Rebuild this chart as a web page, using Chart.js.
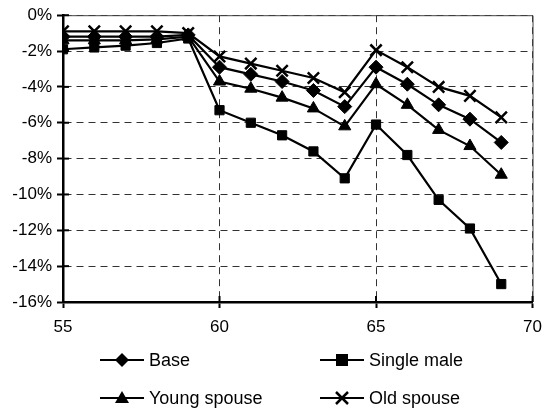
<!DOCTYPE html>
<html>
<head>
<meta charset="utf-8">
<script src="https://cdn.jsdelivr.net/npm/chart.js@4/dist/chart.umd.min.js"></script>
<style>
  body { margin: 0; background: #fff; }
  #wrap { position: relative; width: 551px; height: 412px; }
  #chart { position: absolute; left: 0; top: 0; }
  .leg { position: absolute; display: flex; align-items: center; font: 18px "Liberation Sans", Arial, sans-serif; color: #000; }
  .leg canvas { margin-right: 3px; }
</style>
</head>
<body>
<div id="wrap">
  <canvas id="chart" width="551" height="412"></canvas>
  <div class="leg" style="left:98px;top:348px"><canvas data-style="rectRot" width="48" height="24"></canvas>Base</div>
  <div class="leg" style="left:318px;top:348px"><canvas data-style="rect" width="48" height="24"></canvas>Single male</div>
  <div class="leg" style="left:98px;top:386px"><canvas data-style="triangle" width="48" height="24"></canvas>Young spouse</div>
  <div class="leg" style="left:318px;top:386px"><canvas data-style="crossRot" width="48" height="24"></canvas>Old spouse</div>
</div>
<script>
const ages = [55, 56, 57, 58, 59, 60, 61, 62, 63, 64, 65, 66, 67, 68, 69];
const base = [-1.2, -1.2, -1.2, -1.2, -1.1, -2.9, -3.3, -3.7, -4.2, -5.1, -2.9, -3.85, -5.0, -5.8, -7.1];
const singleMale = [-1.9, -1.8, -1.7, -1.55, -1.3, -5.3, -6.0, -6.7, -7.6, -9.1, -6.1, -7.8, -10.3, -11.9, -15.0];
const youngSpouse = [-1.4, -1.4, -1.4, -1.35, -1.2, -3.7, -4.1, -4.6, -5.2, -6.2, -3.85, -5.0, -6.4, -7.3, -8.9];
const oldSpouse = [-0.9, -0.9, -0.9, -0.9, -1.0, -2.3, -2.7, -3.1, -3.5, -4.3, -1.95, -2.9, -4.0, -4.5, -5.7];
const xTicks = [55, 60, 65, 70];

function pts(vals) {
  return vals.map((v, i) => ({ x: ages[i], y: v }));
}

function series(label, vals, style, radius) {
  return {
    label: label,
    data: pts(vals),
    borderColor: '#000',
    backgroundColor: '#000',
    borderWidth: 2.2,
    pointStyle: style,
    pointRadius: radius,
    pointBorderWidth: style === 'crossRot' ? 2.5 : 1,
    pointBorderColor: '#000',
    pointBackgroundColor: '#000',
    tension: 0
  };
}

// thin frame on top and right of the plot
const framePlugin = {
  id: 'frame',
  afterDraw(chart) {
    const a = chart.chartArea;
    const c = chart.ctx;
    c.save();
    c.strokeStyle = '#444';
    c.lineWidth = 1;
    c.beginPath();
    c.moveTo(a.left, a.top + 0.5);
    c.lineTo(a.right + 0.5, a.top + 0.5);
    c.lineTo(a.right + 0.5, a.bottom);
    c.stroke();
    // tick marks crossing into the plot
    c.strokeStyle = '#000';
    c.lineWidth = 2;
    const ys = chart.scales.y, xs = chart.scales.x;
    ys.ticks.forEach(t => {
      const py = ys.getPixelForValue(t.value);
      c.beginPath(); c.moveTo(a.left, py); c.lineTo(a.left + 6, py); c.stroke();
    });
    xTicks.forEach(v => {
      const px = xs.getPixelForValue(v);
      c.beginPath(); c.moveTo(px, a.bottom); c.lineTo(px, a.bottom - 6); c.stroke();
    });
    c.restore();
  }
};

new Chart(document.getElementById('chart'), {
  type: 'line',
  data: {
    datasets: [
      series('Base', base, 'rectRot', 7),
      series('Single male', singleMale, 'rect', 6.5),
      series('Young spouse', youngSpouse, 'triangle', 7),
      series('Old spouse', oldSpouse, 'crossRot', 8)
    ]
  },
  options: {
    responsive: false,
    animation: false,
    layout: { padding: { top: 12, right: 8, left: 0, bottom: 0 } },
    plugins: { legend: { display: false }, tooltip: { enabled: false } },
    scales: {
      x: {
        type: 'linear',
        min: 55,
        max: 70,
        afterFit(s) { s.height = 110; },
        afterBuildTicks(s) { s.ticks = xTicks.map(v => ({ value: v })); },
        ticks: { color: '#000', padding: 9, maxRotation: 0, font: { family: 'Liberation Sans', size: 17 } },
        grid: { color: '#333', lineWidth: 1, tickLength: 6, tickColor: '#000', tickWidth: 2 },
        border: { color: '#000', width: 2.5, dash: [7, 5] }
      },
      y: {
        min: -16,
        max: 0,
        afterFit(s) { s.width = 63; },
        ticks: {
          stepSize: 2,
          color: '#000',
          padding: 5,
          font: { family: 'Liberation Sans', size: 17 },
          callback: v => v + '%'
        },
        grid: { color: '#333', lineWidth: 1, tickLength: 6, tickColor: '#000', tickWidth: 2 },
        border: { color: '#000', width: 2.5, dash: [7, 5] }
      }
    }
  },
  plugins: [framePlugin]
});

// legend symbols: short line with the marker in the middle
document.querySelectorAll('.leg canvas').forEach(cv => {
  const c = cv.getContext('2d');
  const st = cv.dataset.style;
  const cx = 24, cy = 12;
  c.strokeStyle = '#000';
  c.fillStyle = '#000';
  c.lineWidth = 2.2;
  c.beginPath(); c.moveTo(2, cy); c.lineTo(46, cy); c.stroke();
  c.beginPath();
  if (st === 'rectRot') {
    c.moveTo(cx, cy - 7); c.lineTo(cx + 7, cy); c.lineTo(cx, cy + 7); c.lineTo(cx - 7, cy); c.closePath(); c.fill();
  } else if (st === 'rect') {
    c.fillRect(cx - 6, cy - 6, 12, 12);
  } else if (st === 'triangle') {
    c.moveTo(cx, cy - 7); c.lineTo(cx + 7, cy + 5); c.lineTo(cx - 7, cy + 5); c.closePath(); c.fill();
  } else {
    c.lineWidth = 2.5;
    c.moveTo(cx - 6, cy - 6); c.lineTo(cx + 6, cy + 6); c.moveTo(cx + 6, cy - 6); c.lineTo(cx - 6, cy + 6); c.stroke();
  }
});
</script>
</body>
</html>
